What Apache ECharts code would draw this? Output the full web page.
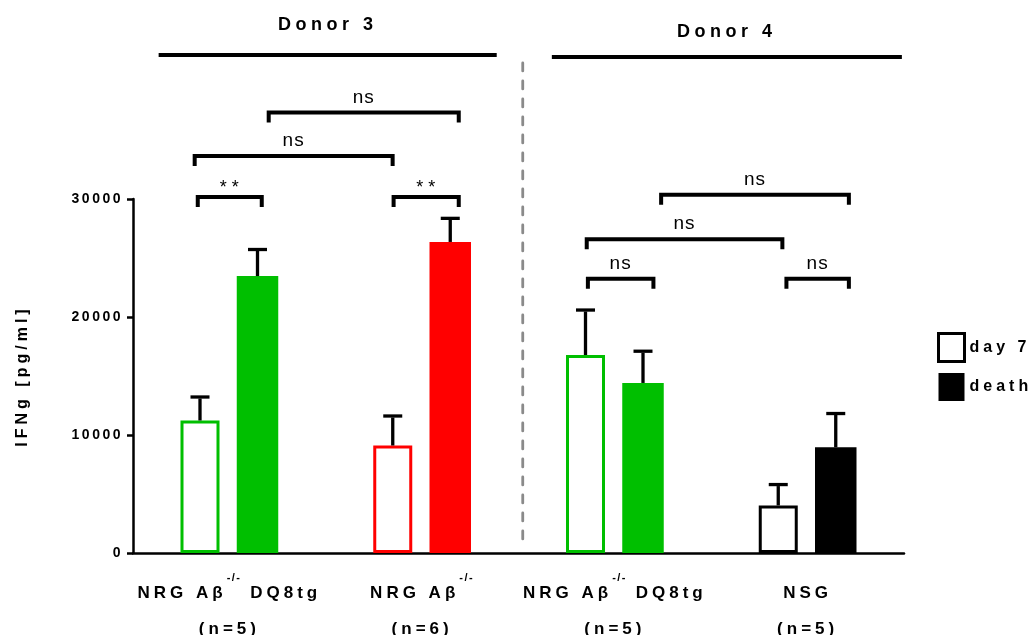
<!DOCTYPE html>
<html>
<head>
<meta charset="utf-8">
<script src="https://cdn.jsdelivr.net/npm/echarts@6/dist/echarts.min.js"></script>
<style>
html,body{margin:0;padding:0;background:#fff;}
#chart{width:1032px;height:635px;}
</style>
</head>
<body>
<div id="chart"></div>
<script>
// ---------- data ----------
const GROUP_LABELS = ['NRG Aβ-/- DQ8tg', 'NRG Aβ-/-', 'NRG Aβ-/- DQ8tg', 'NSG'];
const GROUP_N = ['(n=5)', '(n=6)', '(n=5)', '(n=5)'];
const GROUP_COLORS = ['#00bf00', '#ff0000', '#00bf00', '#000000'];
const SERIES_NAMES = ['day 7', 'death'];
const DAY7_MEAN = [11230, 9110, 16780, 4030];
const DAY7_ERR = [1990, 2500, 3810, 1770];
const DEATH_MEAN = [23470, 26360, 14410, 8960];
const DEATH_ERR = [2250, 2000, 2690, 2860];
const Y_TICKS = [0, 10000, 20000, 30000];
const Y_TITLE = 'IFNg [pg/ml]';

// significance brackets (x in group units: group centres at 0,1,2,3)
const BRACKET_FROM = [-0.164, -0.18, 0.204, 0.852, 1.86, 1.854, 2.24, 2.89];
const BRACKET_TO = [0.168, 0.847, 1.19, 1.19, 2.2, 2.869, 3.214, 3.214];
const BRACKET_Y = [30170, 33650, 37320, 30170, 23250, 26590, 30370, 23250];
const BRACKET_TEXT = ['**', 'ns', 'ns', '**', 'ns', 'ns', 'ns', 'ns'];

// donor headers
const DONOR_NAMES = ['Donor 3', 'Donor 4'];
const DONOR_FROM = [-0.367, 1.673];
const DONOR_TO = [1.387, 3.489];
const DONOR_LINE_Y = [42210, 42040];
const DONOR_TEXT_Y = [44750, 44150];

// separator between donors
const SEPARATOR_X = [1.522];
const SEPARATOR_Y = [[41530, 930]];

// ---------- letter spacing (canvas) ----------
(function () {
  const P = CanvasRenderingContext2D.prototype;
  const d = Object.getOwnPropertyDescriptor(P, 'font');
  if (!d || !('letterSpacing' in P)) return;
  const SP = { b14: 2.5, b16: 4, b17: 4, b11: 1.5, b18: 4.5, n19: 1, n18: 5 };
  Object.defineProperty(P, 'font', {
    configurable: true,
    get() { return d.get.call(this); },
    set(v) {
      d.set.call(this, v);
      const m = /(\d+(?:\.\d+)?)px/.exec(v);
      const bold = /bold|[6-9]00/.test(v);
      const k = (bold ? 'b' : 'n') + (m ? Math.round(+m[1]) : 12);
      this.letterSpacing = (SP[k] || 0) + 'px';
    }
  });
})();

// ---------- chart ----------
const FONT = "'Liberation Sans', Arial, Helvetica, sans-serif";
const BAR_W7 = 39, BAR_WD = 41.5, BAR_GAP = 17.25;
const TOTAL_W = BAR_W7 + BAR_GAP + BAR_WD;
const OFF7 = -TOTAL_W / 2 + BAR_W7 / 2;
const OFFD = TOTAL_W / 2 - BAR_WD / 2;

const chart = echarts.init(document.getElementById('chart'), null, { renderer: 'canvas' });

function labelFormatter(val, idx) {
  const parts = val.split('-/-');
  let s = '{a|' + parts[0] + '}';
  if (parts.length > 1) {
    s += '{s|-/-}';
    if (parts[1]) s += '{a|' + parts[1] + '}';
  }
  return s + '\n{n|' + GROUP_N[idx] + '}';
}

const option = {
  animation: false,
  backgroundColor: '#ffffff',
  grid: { left: 133, right: 128, top: 199, bottom: 82, outerBoundsMode: 'none', containLabel: false },
  legend: {
    orient: 'vertical', left: 937, top: 332, padding: 0,
    itemWidth: 26, itemHeight: 28, itemGap: 10,
    selectedMode: false,
    textStyle: { fontSize: 16, fontWeight: 'bold', color: '#000', fontFamily: FONT },
    data: [
      { name: SERIES_NAMES[0], icon: 'rect', itemStyle: { color: '#fff', borderColor: '#000', borderWidth: 3 } },
      { name: SERIES_NAMES[1], icon: 'rect', itemStyle: { color: '#000', borderWidth: 0 } }
    ]
  },
  xAxis: [
    {
      type: 'category',
      data: GROUP_LABELS,
      boundaryGap: true,
      axisLine: { lineStyle: { color: '#000', width: 2.5 } },
      axisTick: { alignWithLabel: true, length: 7, lineStyle: { color: '#000', width: 2.5 } },
      axisLabel: {
        interval: 0, margin: 20, color: '#000',
        formatter: labelFormatter,
        rich: {
          a: { fontSize: 17, fontWeight: 'bold', fontFamily: FONT, color: '#000', lineHeight: 30, padding: [10, 0, 0, 0] },
          s: { fontSize: 11, fontWeight: 'bold', fontFamily: FONT, color: '#000', lineHeight: 30, padding: [0, 0, 21, 0] },
          n: { fontSize: 17, fontWeight: 'bold', fontFamily: FONT, color: '#000', lineHeight: 36, padding: [16, 0, 0, 0] }
        }
      },
      splitLine: { show: false }
    },
    { type: 'value', min: -0.5, max: 3.5, show: false }
  ],
  yAxis: {
    type: 'value', min: 0, max: 30000, interval: 10000,
    name: Y_TITLE, nameLocation: 'middle', nameGap: 100, nameRotate: 90,
    nameTextStyle: { fontSize: 16, fontWeight: 'bold', color: '#000', fontFamily: FONT },
    axisLine: { show: true, onZero: false, lineStyle: { color: '#000', width: 2.5 } },
    axisTick: { show: true, length: 6, lineStyle: { color: '#000', width: 2.5 } },
    axisLabel: {
      margin: 10, fontSize: 14, fontWeight: 'bold', color: '#000', fontFamily: FONT,
      formatter: v => (Y_TICKS.indexOf(v) >= 0 ? String(v) : '')
    },
    splitLine: { show: false }
  },
  series: [
    {
      name: SERIES_NAMES[0], type: 'bar', barWidth: BAR_W7, barGap: (BAR_GAP / BAR_W7 * 100) + '%',
      itemStyle: { color: '#fff', borderColor: '#000', borderWidth: 3 },
      data: DAY7_MEAN.map((v, i) => ({ value: v, itemStyle: { color: '#fff', borderColor: GROUP_COLORS[i], borderWidth: 3 } }))
    },
    {
      name: SERIES_NAMES[1], type: 'bar', barWidth: BAR_WD,
      itemStyle: { color: '#000' },
      data: DEATH_MEAN.map((v, i) => ({ value: v, itemStyle: { color: GROUP_COLORS[i] } }))
    },
    {
      type: 'custom', name: 'errors', clip: false, z: 5, silent: true,
      xAxisIndex: 0, yAxisIndex: 0,
      encode: { x: 0, y: [1, 2] },
      data: DAY7_MEAN.map((m, i) => [i, m, m + DAY7_ERR[i], 0])
        .concat(DEATH_MEAN.map((m, i) => [i, m, m + DEATH_ERR[i], 1])),
      renderItem(params, api) {
        const i = api.value(0);
        const p0 = api.coord([i, api.value(1)]);
        const p1 = api.coord([i, api.value(2)]);
        const x = p0[0] + (api.value(3) ? OFFD : OFF7);
        const st = { stroke: '#000', lineWidth: 3.3, lineCap: 'butt' };
        return {
          type: 'group', children: [
            { type: 'line', shape: { x1: x, y1: p0[1], x2: x, y2: p1[1] + 1.5 }, style: st },
            { type: 'line', shape: { x1: x - 9.5, y1: p1[1], x2: x + 9.5, y2: p1[1] }, style: st }
          ]
        };
      }
    },
    {
      type: 'custom', name: 'brackets', clip: false, z: 5, silent: true,
      xAxisIndex: 1, yAxisIndex: 0,
      encode: { x: [0, 1], y: 2 },
      data: BRACKET_FROM.map((f, i) => [f, BRACKET_TO[i], BRACKET_Y[i]]),
      renderItem(params, api) {
        const a = api.coord([api.value(0), api.value(2)]);
        const b = api.coord([api.value(1), api.value(2)]);
        const t = BRACKET_TEXT[params.dataIndex];
        const star = t.indexOf('*') >= 0;
        return {
          type: 'group', children: [
            { type: 'polyline', shape: { points: [[a[0], a[1] + 10], [a[0], a[1]], [b[0], b[1]], [b[0], b[1] + 10]] },
              style: { stroke: '#000', lineWidth: 4, fill: null, lineJoin: 'miter' } },
            { type: 'text', style: {
                text: t, x: (a[0] + b[0]) / 2 + (star ? 2 : 0), y: a[1] - (star ? 9 : 15),
                align: 'center', verticalAlign: 'middle',
                fontSize: star ? 18 : 19, fontWeight: 'normal', fontFamily: FONT, fill: '#000' } }
          ]
        };
      }
    },
    {
      type: 'custom', name: 'donors', clip: false, z: 5, silent: true,
      xAxisIndex: 1, yAxisIndex: 0,
      encode: { x: [0, 1], y: [2, 3] },
      data: DONOR_FROM.map((f, i) => [f, DONOR_TO[i], DONOR_LINE_Y[i], DONOR_TEXT_Y[i]]),
      renderItem(params, api) {
        const a = api.coord([api.value(0), api.value(2)]);
        const b = api.coord([api.value(1), api.value(2)]);
        const t = api.coord([(api.value(0) + api.value(1)) / 2, api.value(3)]);
        return {
          type: 'group', children: [
            { type: 'line', shape: { x1: a[0], y1: a[1], x2: b[0], y2: b[1] }, style: { stroke: '#000', lineWidth: 4 } },
            { type: 'text', style: {
                text: DONOR_NAMES[params.dataIndex], x: t[0], y: t[1],
                align: 'center', verticalAlign: 'middle',
                fontSize: 18, fontWeight: 'bold', fontFamily: FONT, fill: '#000' } }
          ]
        };
      }
    },
    {
      type: 'custom', name: 'separator', clip: false, z: 1, silent: true,
      xAxisIndex: 1, yAxisIndex: 0,
      encode: { x: 0, y: [1, 2] },
      data: SEPARATOR_X.map((x, i) => [x, SEPARATOR_Y[i][0], SEPARATOR_Y[i][1]]),
      renderItem(params, api) {
        const a = api.coord([api.value(0), api.value(1)]);
        const b = api.coord([api.value(0), api.value(2)]);
        return { type: 'line', shape: { x1: a[0], y1: a[1], x2: b[0], y2: b[1] },
          style: { stroke: '#8a8a8a', lineWidth: 2.8, lineDash: [8, 10], lineCap: 'round' } };
      }
    }
  ]
};
chart.setOption(option);
</script>
</body>
</html>
